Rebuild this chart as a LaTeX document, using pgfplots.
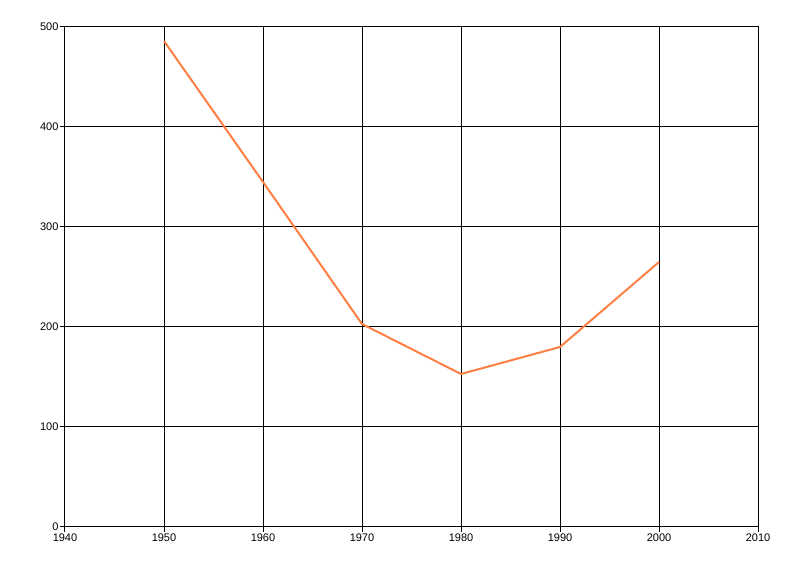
\documentclass[border=0pt]{standalone}
\usepackage{pgfplots}
\pgfplotsset{compat=1.18}
\usepackage{fontspec}
\setmainfont{Liberation Sans}
\definecolor{lineorange}{RGB}{255,127,68}
\begin{document}
\begin{tikzpicture}[x=1bp,y=1bp]
\path[use as bounding box] (-65,-49) rectangle (735,527);
\begin{axis}[
  at={(0,0)}, anchor=south west,
  scale only axis,
  width=693bp, height=500bp,
  xmin=1940, xmax=2010, ymin=0, ymax=500,
  xtick={1940,1950,...,2010}, ytick={0,100,...,500},
  xticklabel style={/pgf/number format/1000 sep={}},
  /pgf/number format/assume math mode=true,
  ticklabel style={font=\fontsize{11bp}{12bp}\selectfont},
  grid=major,
  major grid style={black, line width=1bp},
  axis line style={black, line width=1bp},
  tick style={black, line width=1bp},
  tick align=outside, tick pos=left,
  major tick length=5bp,
  xticklabel shift=-2bp, yticklabel shift=-2bp,
]
\addplot[lineorange, line width=2bp, mark=none] coordinates {
(1950,486)
(1960,345)
(1970,203)
(1980,153)
(1990,180)
(2000,265)
};
\end{axis}
\end{tikzpicture}
\end{document}
